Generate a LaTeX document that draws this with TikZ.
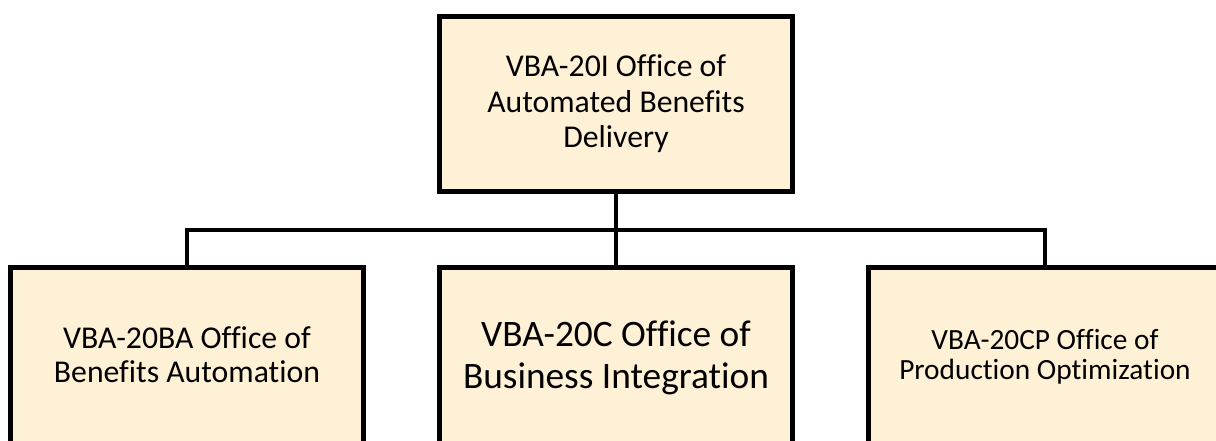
\documentclass[tikz,border=0pt]{standalone}
\usepackage{fontspec}
\setmainfont[Ligatures=NoCommon]{Carlito}
\usetikzlibrary{positioning}
\definecolor{boxcream}{RGB}{255,241,214}

\begin{document}
\begin{tikzpicture}[
    x=0.75pt, y=-0.75pt,
    node distance=53.25pt,
    box/.style={rectangle, draw, fill=boxcream, line width=3.5pt, align=center, minimum width=265pt, minimum height=131.5pt},
    unit/.style={box, minimum height=140.5pt, text depth=10pt},
    link/.style={line width=3.5pt}
]
    \useasboundingbox (0,0) rectangle (1216,441);
    \clip (0,0) rectangle (1216,441);

    \node[box, font=\fontsize{23.8}{26.6}\selectfont] (abd) at (616,104) {VBA-20I Office of\\Automated Benefits\\Delivery};
    \node[unit, below=of abd, font=\fontsize{28}{31.5}\selectfont] (bi) {VBA-20C Office of\\Business Integration};
    \node[unit, left=of bi, font=\fontsize{23.8}{25.8}\selectfont] (ba) {VBA-20BA Office of\\Benefits Automation};
    \node[unit, right=of bi, font=\fontsize{22}{22.5}\selectfont] (cp) {VBA-20CP Office of\\Production Optimization};

    \draw[link] (abd) -- (bi);
    \draw[link] (ba.north) -- ++(0,-35) -| (cp.north);
\end{tikzpicture}
\end{document}
